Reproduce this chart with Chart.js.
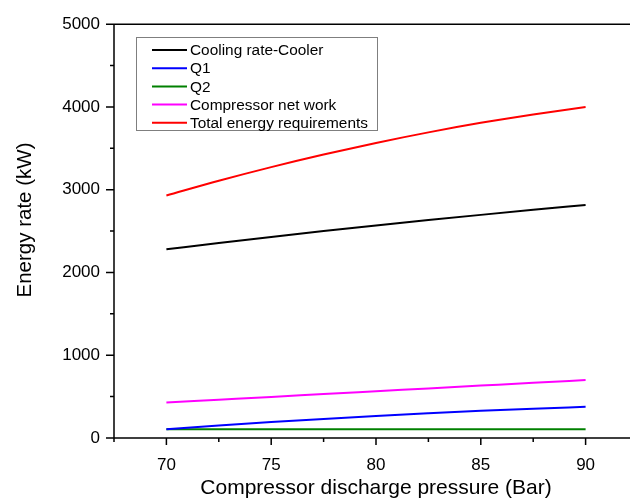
<!DOCTYPE html>
<html>
<head>
<meta charset="utf-8">
<script src="https://cdn.jsdelivr.net/npm/chart.js@4.4.1/dist/chart.umd.min.js"></script>
<style>
  html, body { margin:0; padding:0; background:#fff; overflow:hidden; }
  #wrap { position:relative; width:655px; height:501px; }
</style>
</head>
<body>
<div id="wrap"><canvas id="chart" width="655" height="501"></canvas></div>
<script>
// pressure (Bar)
const pressure = [70, 72.5, 75, 77.5, 80, 82.5, 85, 87.5, 90];
// energy rates (kW)
const coolingRate = [2280, 2356, 2429, 2500, 2568, 2633, 2696, 2757, 2815];
const q1 = [105, 150, 192, 230, 266, 298, 328, 354, 377];
const q2 = [105, 105, 105, 105, 105, 105, 105, 105, 105];
const compWork = [430, 463, 496, 531, 565, 599, 633, 667, 700];
const totalEnergy = [2930, 3108, 3273, 3425, 3565, 3693, 3808, 3910, 4000];

const seriesNames = ['Cooling rate-Cooler', 'Q1', 'Q2', 'Compressor net work', 'Total energy requirements'];
const seriesColors = ['#000000', '#0000ff', '#008000', '#ff00ff', '#ff0000'];
const seriesValues = [coolingRate, q1, q2, compWork, totalEnergy];

const FONT = '"Liberation Sans", Arial, sans-serif';
const yTitle = 'Energy rate (kW)';

// axis frame, ticks of two lengths, y title and the boxed legend inside the plot
const framePlugin = {
  id: 'frame',
  afterDraw(chart){
    const ctx = chart.ctx, a = chart.chartArea;
    const xs = chart.scales.x, ys = chart.scales.y;
    ctx.save();
    ctx.strokeStyle = '#000';
    ctx.lineWidth = 1.5;
    ctx.beginPath();
    ctx.moveTo(a.left, a.top); ctx.lineTo(a.right, a.top);
    ctx.moveTo(a.left, a.top); ctx.lineTo(a.left, a.bottom);
    ctx.moveTo(a.left, a.bottom); ctx.lineTo(a.right, a.bottom);
    ys.ticks.forEach(t => {
      const y = ys.getPixelForValue(t.value);
      const len = t.value % 1000 === 0 ? 8 : 4;
      ctx.moveTo(a.left - len, y); ctx.lineTo(a.left, y);
    });
    xs.ticks.forEach(t => {
      const x = xs.getPixelForValue(t.value);
      const len = t.value % 5 === 0 ? 7 : 4;
      ctx.moveTo(x, a.bottom); ctx.lineTo(x, a.bottom + len);
    });
    ctx.stroke();

    // y title, sits a little above the middle like in the original
    ctx.save();
    ctx.translate(25, 220);
    ctx.rotate(-Math.PI / 2);
    ctx.font = '20.5px ' + FONT;
    ctx.fillStyle = '#000';
    ctx.textAlign = 'center';
    ctx.textBaseline = 'middle';
    ctx.fillText(yTitle, 0, 0);
    ctx.restore();

    // legend
    const bx = 136.5, by = 37.5, bw = 241, bh = 93;
    ctx.lineWidth = 1;
    ctx.strokeStyle = '#7f7f7f';
    ctx.strokeRect(bx, by, bw, bh);
    ctx.font = '15.4px ' + FONT;
    ctx.textBaseline = 'middle';
    ctx.fillStyle = '#000';
    chart.data.datasets.forEach((ds, i) => {
      const y = 50 + i * 18.2;
      ctx.strokeStyle = ds.borderColor;
      ctx.lineWidth = 2;
      ctx.beginPath(); ctx.moveTo(152, y); ctx.lineTo(187, y); ctx.stroke();
      ctx.fillText(ds.label, 190, y + 1);
    });
    ctx.restore();
  }
};

new Chart(document.getElementById('chart'), {
  type: 'line',
  data: {
    datasets: seriesNames.map((name, i) => ({
      label: name,
      data: pressure.map((p, k) => ({ x: p, y: seriesValues[i][k] })),
      borderColor: seriesColors[i],
      backgroundColor: seriesColors[i],
      borderWidth: 2,
      pointRadius: 0,
      tension: 0.4,
      cubicInterpolationMode: 'monotone'
    }))
  },
  options: {
    responsive: false,
    animation: false,
    devicePixelRatio: 1,
    layout: { padding: { top: 23, right: 2, left: 0, bottom: 0 } },
    plugins: { legend: { display: false }, tooltip: { enabled: false } },
    scales: {
      x: {
        type: 'linear', min: 67.5, max: 92.5,
        border: { display: false },
        grid: { display: false, drawTicks: false },
        ticks: {
          stepSize: 2.5, autoSkip: false, maxRotation: 0, padding: 17,
          color: '#000', font: { family: FONT, size: 17 },
          callback: v => (v % 5 === 0 ? String(v) : '')
        },
        title: { display: true, text: 'Compressor discharge pressure (Bar)', color: '#000',
                 font: { family: FONT, size: 21 }, padding: { top: 0, bottom: 0 } },
        afterFit(scale){ scale.height = 63; }
      },
      y: {
        min: 0, max: 5000,
        border: { display: false },
        grid: { display: false, drawTicks: false },
        ticks: {
          stepSize: 500, autoSkip: false, padding: 14,
          color: '#000', font: { family: FONT, size: 17 },
          callback: v => (v % 1000 === 0 ? String(v) : '')
        },
        afterFit(scale){ scale.width = 114; }
      }
    }
  },
  plugins: [framePlugin]
});
</script>
</body>
</html>
